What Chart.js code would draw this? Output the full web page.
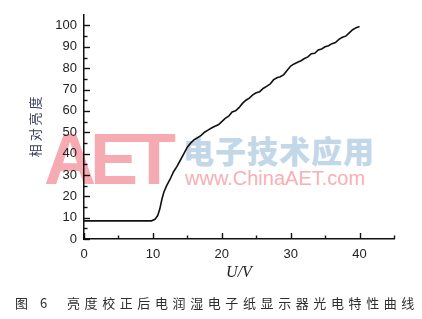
<!DOCTYPE html>
<html>
<head>
<meta charset="utf-8">
<script src="https://cdn.jsdelivr.net/npm/chart.js@4.4.1/dist/chart.umd.min.js"></script>
<style>
  html, body { margin: 0; padding: 0; background: #fff; }
  #wrap { position: relative; width: 422px; height: 319px; overflow: hidden; }
  #chart { position: absolute; left: 0; top: 0; }
  .wm { position: absolute; white-space: nowrap; }
  #wmAet { left: 44px; top: 118px; font: bold 72px "Liberation Sans", Arial, sans-serif; letter-spacing: -6px; color: #f6abb2; }
  #wmCn { left: 183px; top: 127px; font: 31px "Noto Sans CJK SC", sans-serif; font-weight: 900; letter-spacing: 1px; color: #c2d7e8; }
  #wmUrl { left: 185px; top: 167px; font: 20px "Liberation Sans", Arial, sans-serif; color: #f7b0b6; }
  #caption { position: absolute; left: 15px; top: 293px; font: 13px "Noto Sans CJK SC", sans-serif; letter-spacing: 4.6px; color: #2e2e2e; }
</style>
</head>
<body>
<div id="wrap">
  <div class="wm" id="wmAet">AET</div>
  <div class="wm" id="wmCn">电子技术应用</div>
  <div class="wm" id="wmUrl">www.ChinaAET.com</div>
  <canvas id="chart" width="422" height="319"></canvas>
  <div id="caption">图 6&nbsp;&nbsp;亮度校正后电润湿电子纸显示器光电特性曲线</div>
</div>
<script>
// voltage (V) and relative brightness
const voltage = [0, 2, 4, 6, 8, 9.8, 10.3, 10.7, 11.0, 11.3, 11.6, 12.0, 12.5, 13.0, 13.5, 14.0,
  14.5, 15.0, 15.5, 16.0, 16.5, 17.0, 17.5, 18.0, 18.5, 19.0, 19.5, 20.0, 20.5, 21.0, 21.5,
  22.0, 22.5, 23.0, 23.5, 24.0, 24.5, 25.0, 25.5, 26.0, 26.5, 27.0, 27.5, 28.0, 28.5, 29.0,
  29.5, 30.0, 30.5, 31.0, 31.5, 32.0, 32.5, 33.0, 33.5, 34.0, 34.5, 35.0, 35.5, 36.0, 36.5,
  37.0, 37.5, 38.0, 38.5, 39.0, 39.5, 40.0];
const brightness = [8.5, 8.5, 8.5, 8.5, 8.5, 8.5, 9.2, 11, 14, 18.5, 22, 25, 28, 31.5, 34, 37,
  40, 43, 45, 46.5, 47.5, 48.5, 50, 51, 52, 52.8, 53.5, 55, 56.5, 57.5, 59.5,
  60, 61.5, 63.5, 65, 66, 67.5, 68.5, 69, 70.5, 71.5, 72.5, 74.5, 75.5, 76, 77,
  79, 81, 82, 82.8, 83.5, 84.5, 85.3, 86.8, 87, 88.5, 89, 90, 90.5, 91.5, 92,
  93.5, 94.5, 95, 96.5, 98, 99, 99.5];

const xTicks = [0, 10, 20, 30, 40];
const yTicks = [0, 10, 20, 30, 40, 50, 60, 70, 80, 90, 100];
const xTitle = 'U/V';
const yTitle = '相 对 亮 度';

const points = voltage.map((v, i) => ({ x: v, y: brightness[i] }));

// inward major/minor ticks like the original plot
const inwardTicks = {
  id: 'inwardTicks',
  afterDraw(chart) {
    const ctx = chart.ctx;
    const xs = chart.scales.x, ys = chart.scales.y;
    const area = chart.chartArea;
    ctx.save();
    ctx.strokeStyle = '#111';
    ctx.lineWidth = 1.4;
    for (let v = 0; v <= 100; v += 5) {
      const py = Math.round(ys.getPixelForValue(v)) + 0.5;
      const len = v % 10 === 0 ? 6 : 3.5;
      ctx.beginPath();
      ctx.moveTo(area.left, py);
      ctx.lineTo(area.left + len, py);
      ctx.stroke();
    }
    for (let v = 0; v <= 45; v += 5) {
      const px = Math.round(xs.getPixelForValue(v)) + 0.5;
      const len = v % 10 === 0 ? 6 : 3.5;
      ctx.beginPath();
      ctx.moveTo(px, area.bottom);
      ctx.lineTo(px, area.bottom - len);
      ctx.stroke();
    }
    ctx.restore();
  }
};

new Chart(document.getElementById('chart'), {
  type: 'line',
  data: {
    datasets: [{
      data: points,
      borderColor: '#111',
      borderWidth: 1.6,
      pointRadius: 0,
      tension: 0,
      fill: false
    }]
  },
  options: {
    responsive: false,
    animation: false,
    layout: { padding: { left: 0, right: 28, top: 7, bottom: 35 } },
    plugins: { legend: { display: false }, tooltip: { enabled: false } },
    scales: {
      x: {
        type: 'linear',
        min: 0,
        max: 45,
        afterFit: (scale) => { scale.height = 45; },
        afterBuildTicks: (scale) => { scale.ticks = xTicks.map(v => ({ value: v })); },
        grid: { display: false, drawTicks: false },
        border: { display: true, color: '#111', width: 1.5 },
        ticks: {
          autoSkip: false,
          maxRotation: 0,
          padding: 8,
          color: '#222',
          font: { family: 'Liberation Sans', size: 13 }
        },
        title: {
          display: true,
          text: xTitle,
          color: '#222',
          padding: { top: 0, bottom: 2 },
          font: { family: 'Liberation Serif', size: 16, style: 'italic' }
        }
      },
      y: {
        min: 0,
        max: 105,
        afterFit: (scale) => { scale.width = 84; },
        afterBuildTicks: (scale) => { scale.ticks = yTicks.map(v => ({ value: v })); },
        grid: { display: false, drawTicks: false },
        border: { display: true, color: '#111', width: 1.5 },
        ticks: {
          autoSkip: false,
          padding: 7,
          color: '#222',
          font: { family: 'Liberation Sans', size: 13 }
        },
        title: {
          display: true,
          text: yTitle,
          color: '#3a4160',
          padding: { top: 27, bottom: 0 },
          font: { family: 'Noto Sans CJK SC', size: 13 }
        }
      }
    }
  },
  plugins: [inwardTicks]
});
</script>
</body>
</html>
